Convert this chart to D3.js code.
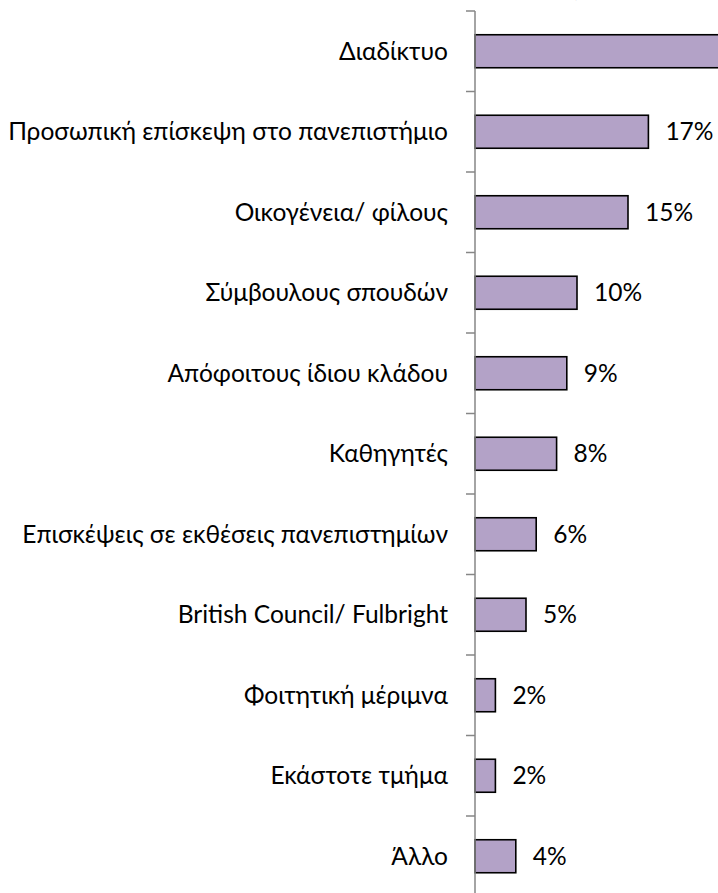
<!DOCTYPE html>
<html><head><meta charset="utf-8">
<script src="https://cdn.jsdelivr.net/npm/d3@7"></script>
<style>html,body{margin:0;padding:0;background:#fff;overflow:hidden}</style>
</head><body>
<svg id="c" width="718" height="893"></svg>
<script>
const categories = ["Διαδίκτυο","Προσωπική επίσκεψη στο πανεπιστήμιο","Οικογένεια/ φίλους","Σύμβουλους σπουδών","Απόφοιτους ίδιου κλάδου","Καθηγητές","Επισκέψεις σε εκθέσεις πανεπιστημίων","British Council/ Fulbright","Φοιτητική μέριμνα","Εκάστοτε τμήμα","Άλλο"];
const values = [27,17,15,10,9,8,6,5,2,2,4];
const valueLabels = ["27%","17%","15%","10%","9%","8%","6%","5%","2%","2%","4%"];
const title = "Πηγές πληροφόρησης";

(function(){
const svg = d3.select("#c");
const font = "Lato, 'Open Sans', sans-serif";
const axisX = 475, plotTop = 11, step = 80.5;
const y = d3.scaleBand().domain(categories).range([plotTop, plotTop + step*categories.length]).paddingInner(0.59).paddingOuter(0.295);
const x = d3.scaleLinear().domain([0,30]).range([axisX, axisX + 306]);

svg.append("text").attr("x", 632).attr("y", -4).attr("text-anchor","middle")
  .attr("font-family", font).attr("font-weight","bold").attr("font-size", 24).attr("fill","#000").text(title);

svg.selectAll("rect.bar").data(categories).enter().append("rect").attr("class","bar")
  .attr("x", x(0)).attr("y", d => y(d)).attr("height", y.bandwidth())
  .attr("width", (d,i) => x(values[i]) - x(0))
  .attr("fill","#B3A2C7").attr("stroke","#000").attr("stroke-width",1.6);

svg.selectAll("text.val").data(categories).enter().append("text").attr("class","val")
  .attr("x", (d,i) => x(values[i]) + 17).attr("y", d => y(d) + y.bandwidth()/2)
  .attr("dy","0.35em").attr("font-family", font).attr("font-size", 20).attr("fill","#000")
  .text((d,i) => valueLabels[i]);

const labs = svg.selectAll("text.cat").data(categories).enter().append("text").attr("class","cat")
  .attr("x", 448).attr("y", d => y(d) + y.bandwidth()/2).attr("dy","0.35em")
  .attr("text-anchor","end").attr("font-family", font).attr("font-size", 20).attr("fill","#000")
  .text(d => d);
const w = labs.nodes()[1].getComputedTextLength();
const fs = 20 * 440 / w;
labs.attr("font-size", fs);
svg.selectAll("text.val").attr("font-size", fs);

const pad = (y.step() - y.bandwidth())/2;
const bounds = categories.map(c => y(c) - pad).concat([y(categories[categories.length-1]) + y.bandwidth() + pad]);
svg.selectAll("line.tick").data(bounds).enter().append("line").attr("class","tick")
  .attr("x1", axisX - 9).attr("x2", axisX).attr("y1", d => d).attr("y2", d => d)
  .attr("stroke","#868686").attr("stroke-width",1.5);
svg.append("line").attr("x1", axisX).attr("x2", axisX).attr("y1", plotTop).attr("y2", bounds[bounds.length-1])
  .attr("stroke","#868686").attr("stroke-width",1.5);
})();
</script>
</body></html>
